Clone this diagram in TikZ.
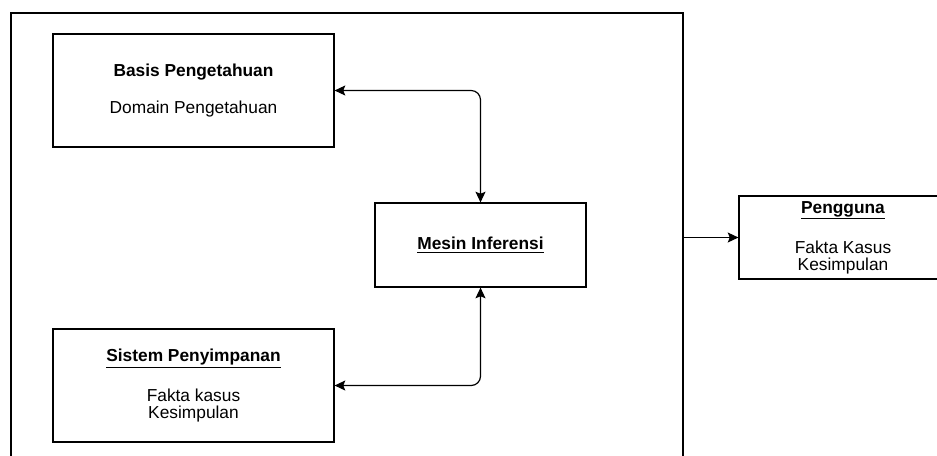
\documentclass[tikz,border=0pt]{standalone}
\usepackage{fontspec}
\setmainfont{Liberation Sans}
\usetikzlibrary{arrows.meta}

\begin{document}
\begin{tikzpicture}[x=0.75pt, y=-0.75pt, line width=0.9pt,
    kotak/.style={draw, rectangle, align=center, inner sep=0pt},
    ujung/.tip={Stealth[length=8pt, width=7.5pt, inset=1.5pt]},
    panah/.style={-ujung},
    panahdua/.style={ujung-ujung, rounded corners=7pt},
    font=\fontsize{13}{12.75}\selectfont]
                \clip (0,0) rectangle (937,455);
                % Sistem pakar (kotak luar, terpotong di bawah)
                \draw (11,13) rectangle (683,480);

                % Basis pengetahuan
                \node[kotak, minimum width=210.75pt, minimum height=84.75pt] (basis) at (193.5,90.5)
                    {\textbf{Basis Pengetahuan}\\[15pt]Domain Pengetahuan};

                % Mesin inferensi
                \node[kotak, minimum width=158.25pt, minimum height=63pt] (mesin) at (480.5,245)
                    {\underline{\textbf{Mesin Inferensi}}};

                % Sistem penyimpanan
                \node[kotak, minimum width=210.75pt, minimum height=84.75pt] (simpan) at (193.5,385.5)
                    {\underline{\textbf{Sistem Penyimpanan}}\\[15pt]Fakta kasus\\Kesimpulan};

                % Pengguna (di luar sistem)
                \node[kotak, minimum width=156pt, minimum height=62.25pt] (pengguna) at (843,237.5)
                    {\underline{\textbf{Pengguna}}\\[15pt]Fakta Kasus\\Kesimpulan};
                \coordinate (keluar) at (683,237.5);

                % Hubungan
                \draw[panahdua] (basis.east) -| (mesin.north);
                \draw[panahdua] (simpan.east) -| (mesin.south);
                \draw[panah] (keluar) -- (pengguna.west);
            \end{tikzpicture}
\end{document}
